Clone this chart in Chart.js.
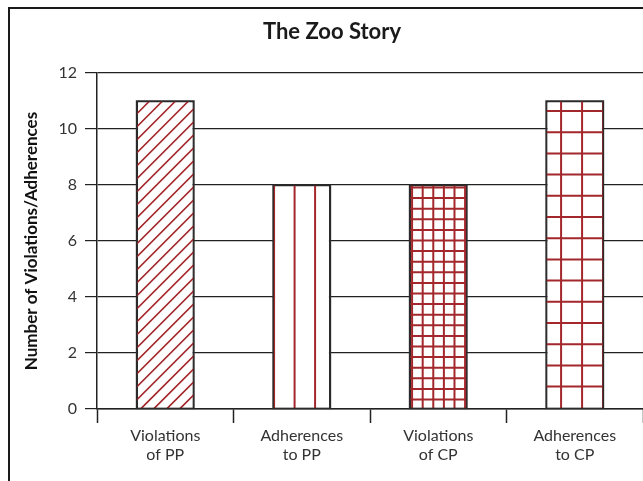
<!DOCTYPE html>
<html>
<head>
<meta charset="utf-8">
<script src="https://cdn.jsdelivr.net/npm/chart.js@4/dist/chart.umd.min.js"></script>
<style>
html,body{margin:0;padding:0;background:#fff;}
#wrap{width:643px;height:481px;position:relative;}
</style>
</head>
<body>
<div id="wrap"><canvas id="c" width="643" height="481"></canvas></div>
<script>
const categories = [["Violations", "of PP"], ["Adherences", "to PP"], ["Violations", "of CP"], ["Adherences", "to CP"]];
const counts = [11, 8, 8, 11];
const yTicks = [0, 2, 4, 6, 8, 10, 12];
const chartTitle = "The Zoo Story";
const yTitle = "Number of Violations/Adherences";

const hatchKinds = ['diagonal', 'vertical', 'fineGrid', 'coarseGrid'];
const hatchColor = '#a3272b';
const edgeColor = '#2b2b2b';

const hatchPlugin = {
  id: 'hatch',
  afterDatasetsDraw(chart) {
    const ctx = chart.ctx;
    const meta = chart.getDatasetMeta(0);
    meta.data.forEach((bar, i) => {
      const p = bar.getProps(['x', 'y', 'base', 'width'], true);
      const l = p.x - p.width / 2, r = p.x + p.width / 2, t = p.y, b = p.base;
      const w = r - l, h = b - t;
      ctx.save();
      ctx.beginPath();
      ctx.rect(l, t, w, h);
      ctx.clip();
      ctx.strokeStyle = hatchColor;
      const kind = hatchKinds[i];
      ctx.beginPath();
      if (kind === 'diagonal') {
        ctx.lineWidth = 1.6;
        const step = 13;
        for (let s = -h - step; s < w + step; s += step) {
          ctx.moveTo(l + s, b);
          ctx.lineTo(l + s + h, t);
        }
      } else if (kind === 'vertical') {
        ctx.lineWidth = 2;
        for (let x = l + 1; x < r; x += 20.5) {
          ctx.moveTo(x, t); ctx.lineTo(x, b);
        }
      } else if (kind === 'fineGrid') {
        ctx.lineWidth = 2;
        for (let x = l + 2.5; x < r; x += 10.6) { ctx.moveTo(x, t); ctx.lineTo(x, b); }
        for (let y = t + 2.5; y < b; y += 10.6) { ctx.moveTo(l, y); ctx.lineTo(r, y); }
      } else {
        ctx.lineWidth = 2;
        for (let x = l + 15; x < r + 1; x += 21) { ctx.moveTo(x, t); ctx.lineTo(x, b); }
        for (let y = t + 10; y < b - 4; y += 21.2) { ctx.moveTo(l, y); ctx.lineTo(r, y); }
      }
      ctx.stroke();
      ctx.restore();
      ctx.save();
      ctx.strokeStyle = edgeColor;
      ctx.lineWidth = 1.5;
      ctx.strokeRect(l, t, w, h);
      ctx.restore();
    });
  }
};

const framePlugin = {
  id: 'frame',
  afterDraw(chart) {
    const ctx = chart.ctx;
    ctx.save();
    ctx.strokeStyle = '#1a1a1a';
    ctx.lineWidth = 2;
    ctx.strokeRect(9, 8, 700, 600);
    ctx.restore();
  }
};

new Chart(document.getElementById('c'), {
  type: 'bar',
  data: {
    labels: categories,
    datasets: [{
      data: counts,
      backgroundColor: '#ffffff',
      borderColor: edgeColor,
      borderWidth: 1.5,
      barPercentage: 0.42,
      categoryPercentage: 1.0
    }]
  },
  options: {
    responsive: false,
    animation: false,
    devicePixelRatio: 1,
    layout: { padding: { left: 21, right: 0, top: 0, bottom: 0 } },
    plugins: {
      legend: { display: false },
      tooltip: { enabled: false },
      title: {
        display: true,
        text: chartTitle,
        color: '#1a1a1a',
        font: { family: 'Lato', size: 22, weight: 'bold', lineHeight: 1.2 },
        padding: { top: 19, bottom: 27.6 }
      }
    },
    scales: {
      x: {
        offset: true,
        grid: {
          display: true,
          offset: true,
          drawOnChartArea: false,
          drawTicks: true,
          tickLength: 14,
          tickWidth: 1.5,
          tickColor: '#222'
        },
        border: { display: true, color: '#222', width: 1.5 },
        ticks: {
          color: '#333',
          font: { family: 'Lato', size: 16, lineHeight: 1.15 },
          padding: 4,
          maxRotation: 0
        },
        afterFit(scale) { scale.height = 72; }
      },
      y: {
        min: 0,
        max: 12,
        afterBuildTicks(scale) { scale.ticks = yTicks.map(v => ({ value: v })); },
        grid: {
          color: '#222',
          lineWidth: 1.2,
          drawTicks: true,
          tickLength: 12,
          tickColor: '#222'
        },
        border: { display: true, color: '#222', width: 1.5 },
        ticks: {
          color: '#333',
          font: { family: 'Lato', size: 16 },
          padding: 8
        },
        title: {
          display: true,
          text: yTitle,
          color: '#111',
          font: { family: 'Lato', size: 17, weight: 'bold' },
          padding: { top: 0, bottom: 5 }
        },
        afterFit(scale) { scale.width = 76; }
      }
    }
  },
  plugins: [hatchPlugin, framePlugin]
});
</script>
</body>
</html>
